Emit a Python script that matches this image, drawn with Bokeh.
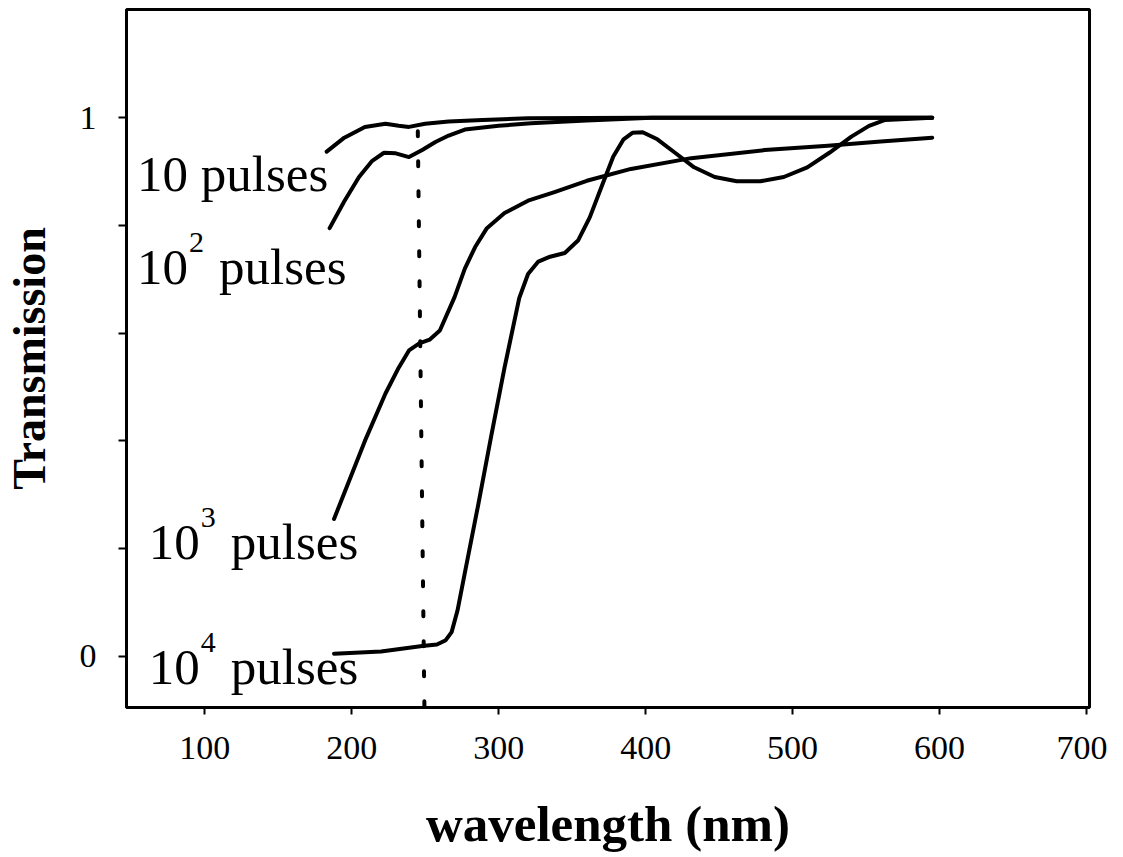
from bokeh.plotting import figure
from bokeh.models import Range1d, FixedTicker, Label
from bokeh.embed import file_html
from bokeh.resources import INLINE

# ---- data ----
x_ticks = [100, 200, 300, 400, 500, 600, 700]
y_ticks = [0, 0.2, 0.4, 0.6, 0.8, 1]
y_tick_labels = {0: "0", 0.2: "", 0.4: "", 0.6: "", 0.8: "", 1: "1"}

wl_10 = [183, 195, 209, 223, 232, 239, 250, 266, 289, 320, 400, 500, 595]
tr_10 = [0.937, 0.963, 0.983, 0.989, 0.985, 0.983, 0.989, 0.993, 0.996, 0.999, 1.0, 1.0, 1.0]

wl_100 = [185, 195, 205, 214, 222, 230, 239, 248, 257, 266, 277, 300, 322, 360, 404, 500, 595]
tr_100 = [0.795, 0.845, 0.890, 0.920, 0.935, 0.934, 0.927, 0.940, 0.955, 0.967, 0.978, 0.985, 0.990, 0.995, 1.0, 1.0, 1.0]

wl_1000 = [188, 209, 223, 232, 239, 246, 253, 260, 270, 277, 284, 292, 304, 320, 338, 360, 390, 431, 481, 524, 560, 595]
tr_1000 = [0.255, 0.40, 0.488, 0.536, 0.568, 0.581, 0.588, 0.605, 0.667, 0.72, 0.760, 0.795, 0.823, 0.846, 0.862, 0.883, 0.905, 0.925, 0.940, 0.948, 0.956, 0.963]

wl_10000 = [188, 220, 248, 258, 264, 268, 272, 277, 286, 295, 304, 314, 320, 327, 335, 345, 354, 362, 370, 378,
            385, 391, 398, 408, 420, 433, 447, 462, 478, 494, 510, 525, 540, 552, 563, 595]
tr_10000 = [0.005, 0.009, 0.019, 0.022, 0.03, 0.045, 0.085, 0.155, 0.28, 0.41, 0.536, 0.665, 0.71, 0.733, 0.742,
            0.749, 0.772, 0.815, 0.872, 0.928, 0.960, 0.972, 0.973, 0.960, 0.935, 0.908, 0.890, 0.882, 0.882,
            0.890, 0.908, 0.935, 0.965, 0.985, 0.996, 1.0]

marker_wl = [245, 249.5]
marker_tr = [0.975, -0.095]

label_texts = [("10 pulses", ""), ("10", "2"), ("10", "3"), ("10", "4")]

# label anchor positions (layout, in plot units)
label_pos = [(54.0, 0.895), (54.0, 0.722), (62.0, 0.212), (62.0, -0.020)]

FONT = "Liberation Serif"

p = figure(width=1107, height=854, output_backend="svg", toolbar_location=None,
           x_range=Range1d(46.8, 702), y_range=Range1d(-0.095, 1.201),
           min_border_left=116, min_border_right=18, min_border_top=9, min_border_bottom=142)
p.background_fill_color = "white"
p.border_fill_color = "white"
p.xgrid.visible = False
p.ygrid.visible = False
p.outline_line_color = "black"
p.outline_line_width = 3

xa = p.xaxis[0]
xa.ticker = FixedTicker(ticks=x_ticks)
xa.axis_line_width = 3
xa.axis_line_color = "black"
xa.major_tick_out = 7
xa.major_tick_in = 0
xa.major_tick_line_width = 2
xa.minor_tick_line_color = None
xa.major_label_text_font = FONT
xa.major_label_text_font_size = "34px"
xa.major_label_text_color = "black"
xa.major_label_standoff = 22
xa.axis_label = "wavelength (nm)"
xa.axis_label_text_font = FONT
xa.axis_label_text_font_style = "bold"
xa.axis_label_text_font_size = "51px"
xa.axis_label_text_color = "black"
xa.axis_label_standoff = 34

ya = p.yaxis[0]
ya.ticker = FixedTicker(ticks=y_ticks)
ya.major_label_overrides = y_tick_labels
ya.axis_line_width = 3
ya.axis_line_color = "black"
ya.major_tick_out = 8
ya.major_tick_in = 0
ya.major_tick_line_width = 2
ya.minor_tick_line_color = None
ya.major_label_text_font = FONT
ya.major_label_text_font_size = "34px"
ya.major_label_text_color = "black"
ya.major_label_standoff = 22
ya.axis_label = "Transmission"
ya.axis_label_text_font = FONT
ya.axis_label_text_font_style = "bold"
ya.axis_label_text_font_size = "46px"
ya.axis_label_text_color = "black"
ya.axis_label_standoff = 22

for xs, ys in [(wl_10, tr_10), (wl_100, tr_100), (wl_1000, tr_1000), (wl_10000, tr_10000)]:
    p.line(xs, ys, line_color="black", line_width=4, line_join="round", line_cap="round")

p.line(marker_wl, marker_tr, line_color="black", line_width=4, line_dash="5 25", line_cap="round")

for (base, sup), (x, y) in zip(label_texts, label_pos):
    p.add_layout(Label(x=x, y=y, text=base, text_font=FONT, text_font_size="51px",
                       text_color="black", text_baseline="alphabetic", text_align="left"))
    if sup:
        p.add_layout(Label(x=x, y=y, x_offset=52, y_offset=25, text=sup, text_font=FONT,
                           text_font_size="30px", text_color="black",
                           text_baseline="alphabetic", text_align="left"))
        p.add_layout(Label(x=x, y=y, x_offset=82, text="pulses", text_font=FONT,
                           text_font_size="51px", text_color="black",
                           text_baseline="alphabetic", text_align="left"))

open("out.html", "w").write(file_html(p, INLINE))
